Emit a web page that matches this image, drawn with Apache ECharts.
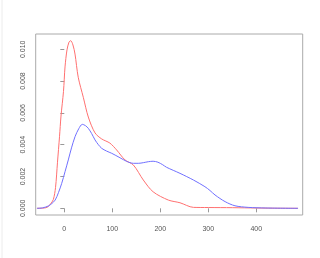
<!DOCTYPE html>
<html>
<head>
<meta charset="utf-8">
<script src="https://cdn.jsdelivr.net/npm/echarts@6/dist/echarts.min.js"></script>
<style>html,body{margin:0;padding:0;background:#fff}#c{width:320px;height:258px}</style>
</head>
<body>
<div id="c"></div>
<script>
var xTicks = [0, 100, 200, 300, 400];
var yTicks = [0, 0.002, 0.004, 0.006, 0.008, 0.010];

var redX = [-57, -45, -38, -34, -28.8, -22.9, -18.3, -14.2, -10, -6.9, -1.7, 1.5, 5.6, 9.8, 13.3, 18, 22.3, 29, 39.6, 50, 64, 78, 95, 109, 126.5, 144, 164.6, 185, 216.7, 241, 269, 300, 350, 400, 450, 487];
var redY = [0, 0.00001, 0.00004, 0.0001, 0.00027, 0.00055, 0.0013, 0.0029, 0.0045, 0.0058, 0.00735, 0.00889, 0.00996, 0.01045, 0.01054, 0.01027, 0.0097, 0.00824, 0.00698, 0.00574, 0.00474, 0.00436, 0.0041, 0.00367, 0.00304, 0.00272, 0.00178, 0.00104, 0.00052, 0.00035, 0.00006, 0.00005, 0.00004, 0.00002, 0.000005, 0];

var blueX = [-57, -45, -33, -26, -19, -12, -5.4, 1.5, 8.3, 15, 22.3, 30, 37.5, 44, 50, 57, 64, 71, 78, 88, 98.7, 116, 130, 144, 155, 164.6, 175, 185, 195, 205, 213, 241, 269, 293, 303.5, 314, 335, 355.6, 383, 420, 487];
var blueY = [0, 0.00003, 0.00015, 0.0003, 0.00052, 0.001, 0.00157, 0.0023, 0.00304, 0.0038, 0.0045, 0.005, 0.00528, 0.0052, 0.00503, 0.0047, 0.0043, 0.004, 0.00377, 0.0036, 0.00346, 0.00318, 0.00295, 0.00283, 0.00283, 0.00287, 0.00293, 0.00296, 0.0029, 0.00274, 0.00258, 0.0022, 0.00178, 0.00136, 0.00112, 0.00084, 0.00042, 0.00016, 0.00006, 0.00002, 0];

function pairs(xs, ys) { return xs.map(function (x, i) { return [x, ys[i]]; }); }

var chart = echarts.init(document.getElementById('c'), null, {renderer: 'canvas'});
var labelStyle = {color: '#555', fontSize: 7, fontFamily: 'Liberation Sans, Arial, sans-serif'};
chart.setOption({
  animation: false,
  grid: {left: 35.7, top: 34, right: 17.3, bottom: 43, show: true, borderColor: '#aaa', borderWidth: 1, backgroundColor: 'transparent'},
  xAxis: {
    type: 'value', min: -59.6, max: 496.7,
    splitLine: {show: false},
    axisLine: {show: false},
    axisTick: {show: true, length: 4, customValues: xTicks, lineStyle: {color: '#999'}},
    axisLabel: Object.assign({customValues: xTicks, margin: 11, formatter: function (v) { return String(v); }}, labelStyle)
  },
  yAxis: {
    type: 'value', min: -0.00042, max: 0.01096,
    splitLine: {show: false},
    axisLine: {show: false},
    axisTick: {show: true, length: 4, customValues: yTicks, lineStyle: {color: '#999'}},
    axisLabel: Object.assign({customValues: yTicks, rotate: 90, margin: 9, formatter: function (v) { return v.toFixed(3); }}, labelStyle)
  },
  graphic: [{type: 'line', shape: {x1: 2, y1: 0, x2: 2, y2: 258}, style: {stroke: '#ececec', lineWidth: 1}}],
  series: [
    {type: 'line', data: pairs(redX, redY), showSymbol: false, smooth: 0.3, lineStyle: {color: '#ff7070', width: 1}},
    {type: 'line', data: pairs(blueX, blueY), showSymbol: false, smooth: 0.3, lineStyle: {color: '#7070ff', width: 1}}
  ]
});
</script>
</body>
</html>
